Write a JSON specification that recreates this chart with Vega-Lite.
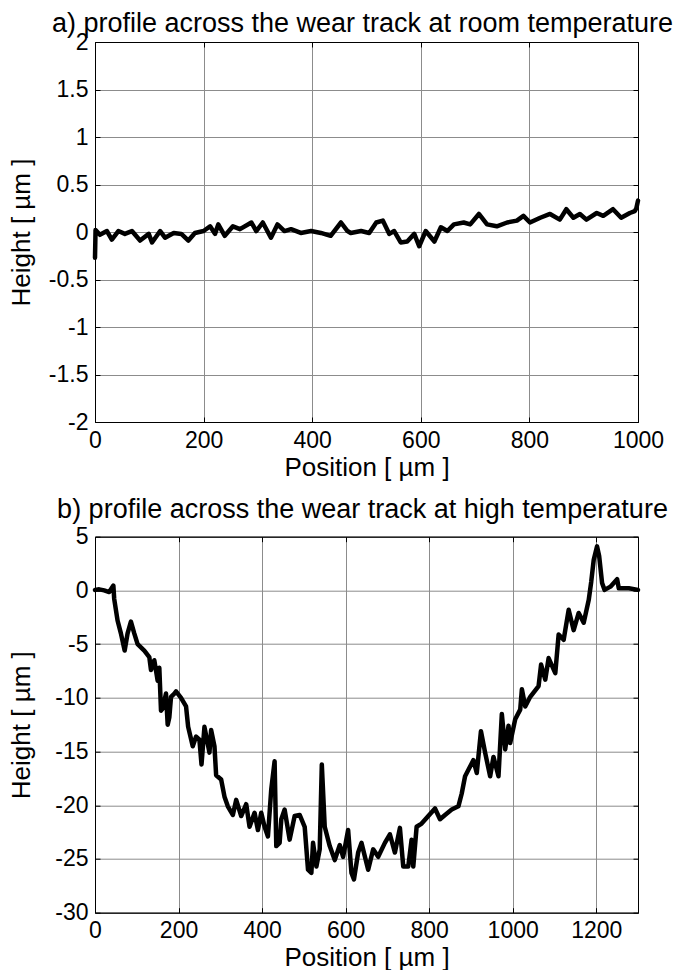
{
  "$schema": "https://vega.github.io/schema/vega-lite/v6.json",
  "padding": {"left": 7, "top": 9, "right": 2, "bottom": 0},
  "background": "white",
  "config": {
    "font": "Liberation Sans",
    "view": {"stroke": "#000", "strokeWidth": 1},
    "axis": {
      "labelFont": "Liberation Sans", "labelFontSize": 23, "labelColor": "#000",
      "titleFont": "Liberation Sans", "titleFontSize": 26, "titleFontWeight": "normal", "titleColor": "#000",
      "gridColor": "#8c8c8c", "gridOpacity": 1, "gridWidth": 1,
      "domainColor": "#000", "tickColor": "#000", "tickSize": -5,
      "labelPadding": 12, "labelFlush": false, "labelOverlap": false
    },
    "title": {"font": "Liberation Sans", "fontSize": 27, "fontWeight": "normal", "color": "#000", "dx": -4},
    "concat": {"spacing": 13.7}
  },
  "datasets": {
    "a": [
      {"position": 0, "height": -0.27}, {"position": 1, "height": 0.02}, {"position": 9, "height": -0.03},
      {"position": 22, "height": 0.01}, {"position": 31, "height": -0.08}, {"position": 43, "height": 0.01},
      {"position": 55, "height": -0.02}, {"position": 68, "height": 0.01}, {"position": 83, "height": -0.09},
      {"position": 99, "height": -0.02}, {"position": 105, "height": -0.11}, {"position": 120, "height": 0.01},
      {"position": 129, "height": -0.06}, {"position": 145, "height": -0.01}, {"position": 159, "height": -0.02},
      {"position": 172, "height": -0.09}, {"position": 184, "height": -0.01}, {"position": 200, "height": 0.01},
      {"position": 212, "height": 0.06}, {"position": 221, "height": -0.02}, {"position": 227, "height": 0.08},
      {"position": 239, "height": -0.04}, {"position": 254, "height": 0.06}, {"position": 267, "height": 0.03},
      {"position": 288, "height": 0.10}, {"position": 297, "height": 0.01}, {"position": 309, "height": 0.10},
      {"position": 324, "height": -0.06}, {"position": 336, "height": 0.08}, {"position": 349, "height": 0.01},
      {"position": 361, "height": 0.03}, {"position": 379, "height": -0.01}, {"position": 398, "height": 0.01},
      {"position": 416, "height": -0.01}, {"position": 434, "height": -0.04}, {"position": 453, "height": 0.10},
      {"position": 465, "height": 0.01}, {"position": 471, "height": -0.01}, {"position": 490, "height": 0.01},
      {"position": 505, "height": -0.01}, {"position": 518, "height": 0.10}, {"position": 530, "height": 0.12},
      {"position": 542, "height": -0.02}, {"position": 551, "height": 0.01}, {"position": 563, "height": -0.11},
      {"position": 575, "height": -0.10}, {"position": 588, "height": -0.02}, {"position": 597, "height": -0.15},
      {"position": 609, "height": 0.01}, {"position": 625, "height": -0.10}, {"position": 637, "height": 0.05},
      {"position": 649, "height": 0.01}, {"position": 661, "height": 0.08}, {"position": 679, "height": 0.10},
      {"position": 691, "height": 0.08}, {"position": 707, "height": 0.19}, {"position": 722, "height": 0.08},
      {"position": 740, "height": 0.06}, {"position": 759, "height": 0.10}, {"position": 777, "height": 0.12},
      {"position": 789, "height": 0.17}, {"position": 801, "height": 0.10}, {"position": 820, "height": 0.15},
      {"position": 838, "height": 0.19}, {"position": 856, "height": 0.13}, {"position": 868, "height": 0.24},
      {"position": 881, "height": 0.15}, {"position": 893, "height": 0.19}, {"position": 905, "height": 0.13},
      {"position": 924, "height": 0.20}, {"position": 936, "height": 0.17}, {"position": 954, "height": 0.24},
      {"position": 969, "height": 0.15}, {"position": 985, "height": 0.20}, {"position": 994, "height": 0.22},
      {"position": 997, "height": 0.25}, {"position": 1000, "height": 0.33}
    ],
    "b": [
      {"position": 0, "height": 0.05}, {"position": 10, "height": 0.1}, {"position": 22, "height": 0},
      {"position": 34, "height": -0.15}, {"position": 44, "height": 0.45}, {"position": 46, "height": -0.8},
      {"position": 54, "height": -2.8}, {"position": 62, "height": -4.0}, {"position": 71, "height": -5.6},
      {"position": 78, "height": -4.0}, {"position": 86, "height": -2.9}, {"position": 94, "height": -4.0},
      {"position": 102, "height": -5.0}, {"position": 118, "height": -5.6}, {"position": 130, "height": -6.2},
      {"position": 134, "height": -7.4}, {"position": 142, "height": -6.5}, {"position": 150, "height": -8.4},
      {"position": 154, "height": -7.2}, {"position": 158, "height": -11.2}, {"position": 162, "height": -11.0},
      {"position": 170, "height": -9.6}, {"position": 174, "height": -12.5}, {"position": 178, "height": -11.8},
      {"position": 182, "height": -9.9}, {"position": 190, "height": -9.6}, {"position": 194, "height": -9.4},
      {"position": 206, "height": -10.0}, {"position": 218, "height": -10.8}, {"position": 223, "height": -12.7},
      {"position": 234, "height": -14.5}, {"position": 242, "height": -13.6}, {"position": 250, "height": -13.9},
      {"position": 255, "height": -16.2}, {"position": 262, "height": -12.7}, {"position": 274, "height": -15.1},
      {"position": 278, "height": -13.0}, {"position": 286, "height": -14.5}, {"position": 290, "height": -17.2},
      {"position": 302, "height": -17.6}, {"position": 310, "height": -19.2}, {"position": 318, "height": -20.1},
      {"position": 330, "height": -20.9}, {"position": 338, "height": -19.5}, {"position": 350, "height": -21.0},
      {"position": 362, "height": -19.9}, {"position": 370, "height": -22.0}, {"position": 382, "height": -20.7},
      {"position": 390, "height": -22.3}, {"position": 398, "height": -20.7}, {"position": 406, "height": -22.0},
      {"position": 414, "height": -22.9}, {"position": 422, "height": -18.5}, {"position": 430, "height": -15.9},
      {"position": 434, "height": -23.8}, {"position": 442, "height": -23.5}, {"position": 446, "height": -21.3},
      {"position": 454, "height": -20.4}, {"position": 466, "height": -23.2}, {"position": 478, "height": -21.0},
      {"position": 490, "height": -20.9}, {"position": 502, "height": -22.0}, {"position": 510, "height": -26.0},
      {"position": 518, "height": -26.3}, {"position": 522, "height": -23.5}, {"position": 530, "height": -25.7},
      {"position": 538, "height": -24.1}, {"position": 543, "height": -16.2}, {"position": 550, "height": -22.0},
      {"position": 562, "height": -23.8}, {"position": 574, "height": -25.1}, {"position": 586, "height": -23.7},
      {"position": 594, "height": -24.8}, {"position": 606, "height": -22.3}, {"position": 614, "height": -26.3},
      {"position": 620, "height": -26.9}, {"position": 630, "height": -24.4}, {"position": 638, "height": -23.5},
      {"position": 654, "height": -26.0}, {"position": 666, "height": -24.1}, {"position": 678, "height": -24.8},
      {"position": 694, "height": -23.5}, {"position": 706, "height": -22.7}, {"position": 718, "height": -24.4},
      {"position": 730, "height": -22.1}, {"position": 738, "height": -25.7}, {"position": 750, "height": -25.7},
      {"position": 758, "height": -23.2}, {"position": 762, "height": -25.7}, {"position": 770, "height": -22.0},
      {"position": 782, "height": -21.7}, {"position": 798, "height": -21.0}, {"position": 814, "height": -20.3},
      {"position": 826, "height": -21.3}, {"position": 838, "height": -20.9}, {"position": 854, "height": -20.4},
      {"position": 870, "height": -20.1}, {"position": 878, "height": -18.9}, {"position": 886, "height": -17.3},
      {"position": 894, "height": -16.7}, {"position": 906, "height": -15.8}, {"position": 914, "height": -17.0},
      {"position": 924, "height": -13.1}, {"position": 934, "height": -15.1}, {"position": 946, "height": -17.3},
      {"position": 954, "height": -15.5}, {"position": 966, "height": -17.3}, {"position": 974, "height": -11.5},
      {"position": 982, "height": -14.8}, {"position": 990, "height": -12.6}, {"position": 994, "height": -14.2},
      {"position": 1006, "height": -12.0}, {"position": 1018, "height": -11.1}, {"position": 1022, "height": -9.2},
      {"position": 1030, "height": -10.8}, {"position": 1042, "height": -9.9}, {"position": 1062, "height": -8.9},
      {"position": 1068, "height": -6.9}, {"position": 1078, "height": -8.3}, {"position": 1086, "height": -6.3},
      {"position": 1102, "height": -7.7}, {"position": 1110, "height": -4.1}, {"position": 1122, "height": -4.6},
      {"position": 1134, "height": -1.8}, {"position": 1146, "height": -3.7}, {"position": 1158, "height": -2.1},
      {"position": 1170, "height": -3.0}, {"position": 1182, "height": -0.9}, {"position": 1188, "height": 0.8},
      {"position": 1194, "height": 2.85}, {"position": 1202, "height": 4.1}, {"position": 1207, "height": 3.2},
      {"position": 1214, "height": 0.7}, {"position": 1220, "height": 0.05}, {"position": 1234, "height": 0.35},
      {"position": 1250, "height": 1.05}, {"position": 1254, "height": 0.2}, {"position": 1278, "height": 0.2},
      {"position": 1300, "height": 0.05}
    ]
  },
  "vconcat": [
    {
      "title": {"text": "a) profile across the wear track at room temperature", "offset": -6.6},
      "width": 543,
      "height": 380,
      "data": {"name": "a"},
      "layer": [
        {
          "mark": {"type": "line", "color": "#000", "strokeWidth": 4.5, "strokeJoin": "round", "strokeCap": "round"},
          "encoding": {
            "x": {"field": "position", "type": "quantitative", "scale": {"domain": [0, 1000], "nice": false},
              "axis": {"title": "Position [ µm ]", "values": [0, 200, 400, 600, 800, 1000], "labelExpr": "'' + datum.value", "grid": true, "titlePadding": 2}},
            "y": {"field": "height", "type": "quantitative", "scale": {"domain": [-2, 2], "nice": false},
              "axis": {"title": "Height [ µm ]", "values": [-2, -1.5, -1, -0.5, 0, 0.5, 1, 1.5, 2], "labelExpr": "'' + datum.value", "grid": true, "minExtent": 50, "maxExtent": 50, "titlePadding": 11}}
          }
        },
        {
          "mark": {"type": "line", "strokeOpacity": 0},
          "encoding": {
            "x": {"field": "position", "type": "quantitative",
              "axis": {"orient": "top", "title": null, "labels": false, "grid": false, "values": [0, 200, 400, 600, 800, 1000], "minExtent": 0, "maxExtent": 0}},
            "y": {"field": "height", "type": "quantitative",
              "axis": {"orient": "right", "title": null, "labels": false, "grid": false, "values": [-2, -1.5, -1, -0.5, 0, 0.5, 1, 1.5, 2], "minExtent": 0, "maxExtent": 0}}
          }
        }
      ],
      "resolve": {"axis": {"x": "independent", "y": "independent"}}
    },
    {
      "title": {"text": "b) profile across the wear track at high temperature", "offset": 2},
      "width": 543,
      "height": 376,
      "data": {"name": "b"},
      "layer": [
        {
          "mark": {"type": "line", "color": "#000", "strokeWidth": 4.5, "strokeJoin": "round", "strokeCap": "round"},
          "encoding": {
            "x": {"field": "position", "type": "quantitative", "scale": {"domain": [0, 1300], "nice": false},
              "axis": {"title": "Position [ µm ]", "values": [0, 200, 400, 600, 800, 1000, 1200], "labelExpr": "'' + datum.value", "grid": true, "titlePadding": 2}},
            "y": {"field": "height", "type": "quantitative", "scale": {"domain": [-30, 5], "nice": false},
              "axis": {"title": "Height [ µm ]", "values": [-30, -25, -20, -15, -10, -5, 0, 5], "labelExpr": "'' + datum.value", "grid": true, "minExtent": 50, "maxExtent": 50, "titlePadding": 11}}
          }
        },
        {
          "mark": {"type": "line", "strokeOpacity": 0},
          "encoding": {
            "x": {"field": "position", "type": "quantitative",
              "axis": {"orient": "top", "title": null, "labels": false, "grid": false, "values": [0, 200, 400, 600, 800, 1000, 1200], "minExtent": 0, "maxExtent": 0}},
            "y": {"field": "height", "type": "quantitative",
              "axis": {"orient": "right", "title": null, "labels": false, "grid": false, "values": [-30, -25, -20, -15, -10, -5, 0, 5], "minExtent": 0, "maxExtent": 0}}
          }
        }
      ],
      "resolve": {"axis": {"x": "independent", "y": "independent"}}
    }
  ]
}
